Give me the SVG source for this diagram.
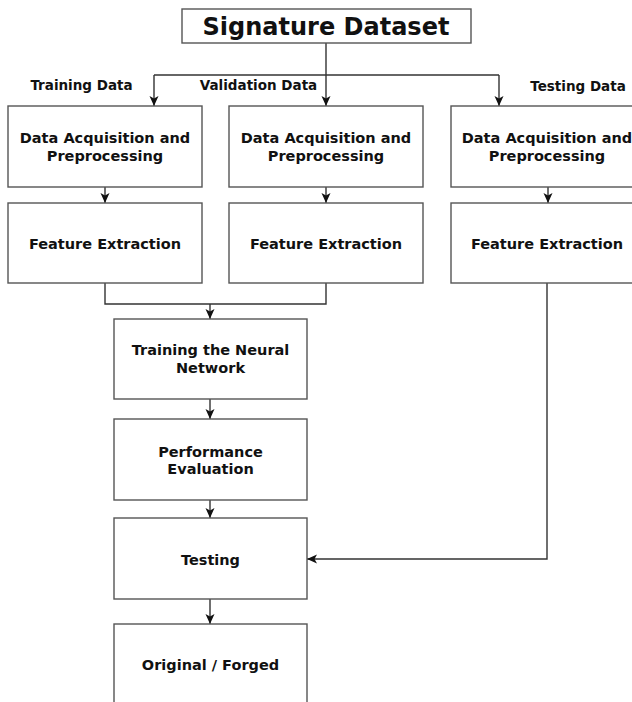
<svg xmlns="http://www.w3.org/2000/svg" width="632" height="702" viewBox="0 0 632 702">
<defs>
<marker id="arr" markerUnits="userSpaceOnUse" markerWidth="10" markerHeight="10" viewBox="0 0 10 10" refX="10" refY="5" orient="auto">
<path d="M0,0.5 L10,5 L0,9.5 L2.5,5 Z" fill="#111"/>
</marker>
<style>
.box{fill:#fff;stroke:#555;stroke-width:1.4}
.t{font-family:"DejaVu Sans","Liberation Sans",sans-serif;font-weight:bold;font-size:14.5px;fill:#111;text-anchor:middle}
.lbl{font-family:"DejaVu Sans","Liberation Sans",sans-serif;font-weight:bold;font-size:13.5px;fill:#111;text-anchor:middle}
.c{fill:none;stroke:#333;stroke-width:1.4}
.ca{fill:none;stroke:#333;stroke-width:1.4;marker-end:url(#arr)}
</style>
</defs>
<rect width="632" height="702" fill="#fff"/>
<g id="connectors">
<path class="c" d="M326,43 V75"/>
<path class="c" d="M154,75 H499"/>
<path class="ca" d="M154,75 V106"/>
<path class="ca" d="M326,75 V106"/>
<path class="ca" d="M499,75 V106"/>
<path class="ca" d="M105,187 V203"/>
<path class="ca" d="M326,187 V203"/>
<path class="ca" d="M548,187 V203"/>
<path class="c" d="M105,283 V304 H326 V283"/>
<path class="ca" d="M210,304 V319"/>
<path class="ca" d="M210,399 V419"/>
<path class="ca" d="M210,500 V518"/>
<path class="ca" d="M210,599 V624"/>
<path class="ca" d="M547,283 V559 H307"/>
</g>
<g id="labels">
<text class="lbl" x="81.5" y="90">Training Data</text>
<text class="lbl" x="258.5" y="90">Validation Data</text>
<text class="lbl" x="578" y="91">Testing Data</text>
</g>
<g id="signature-dataset">
<rect class="box" x="182" y="9" width="289" height="34"/>
<text class="t" x="326" y="35" style="font-size:24px">Signature Dataset</text>
</g>
<g id="acq-train">
<rect class="box" x="8" y="106" width="194" height="81"/>
<text class="t" x="105" y="143">Data Acquisition and</text>
<text class="t" x="105" y="161">Preprocessing</text>
</g>
<g id="acq-val">
<rect class="box" x="229" y="106" width="194" height="81"/>
<text class="t" x="326" y="143">Data Acquisition and</text>
<text class="t" x="326" y="161">Preprocessing</text>
</g>
<g id="acq-test">
<rect class="box" x="451" y="106" width="194" height="81"/>
<text class="t" x="547" y="143">Data Acquisition and</text>
<text class="t" x="547" y="161">Preprocessing</text>
</g>
<g id="feat-train">
<rect class="box" x="8" y="203" width="194" height="80"/>
<text class="t" x="105" y="249">Feature Extraction</text>
</g>
<g id="feat-val">
<rect class="box" x="229" y="203" width="194" height="80"/>
<text class="t" x="326" y="249">Feature Extraction</text>
</g>
<g id="feat-test">
<rect class="box" x="451" y="203" width="194" height="80"/>
<text class="t" x="547" y="249">Feature Extraction</text>
</g>
<g id="train-nn">
<rect class="box" x="114" y="319" width="193" height="80"/>
<text class="t" x="210.5" y="355">Training the Neural</text>
<text class="t" x="210.5" y="373">Network</text>
</g>
<g id="perf-eval">
<rect class="box" x="114" y="419" width="193" height="81"/>
<text class="t" x="210.5" y="457">Performance</text>
<text class="t" x="210.5" y="474">Evaluation</text>
</g>
<g id="testing">
<rect class="box" x="114" y="518" width="193" height="81"/>
<text class="t" x="210.5" y="565">Testing</text>
</g>
<g id="result">
<rect class="box" x="114" y="624" width="193" height="82"/>
<text class="t" x="210.5" y="670">Original / Forged</text>
</g>
</svg>
